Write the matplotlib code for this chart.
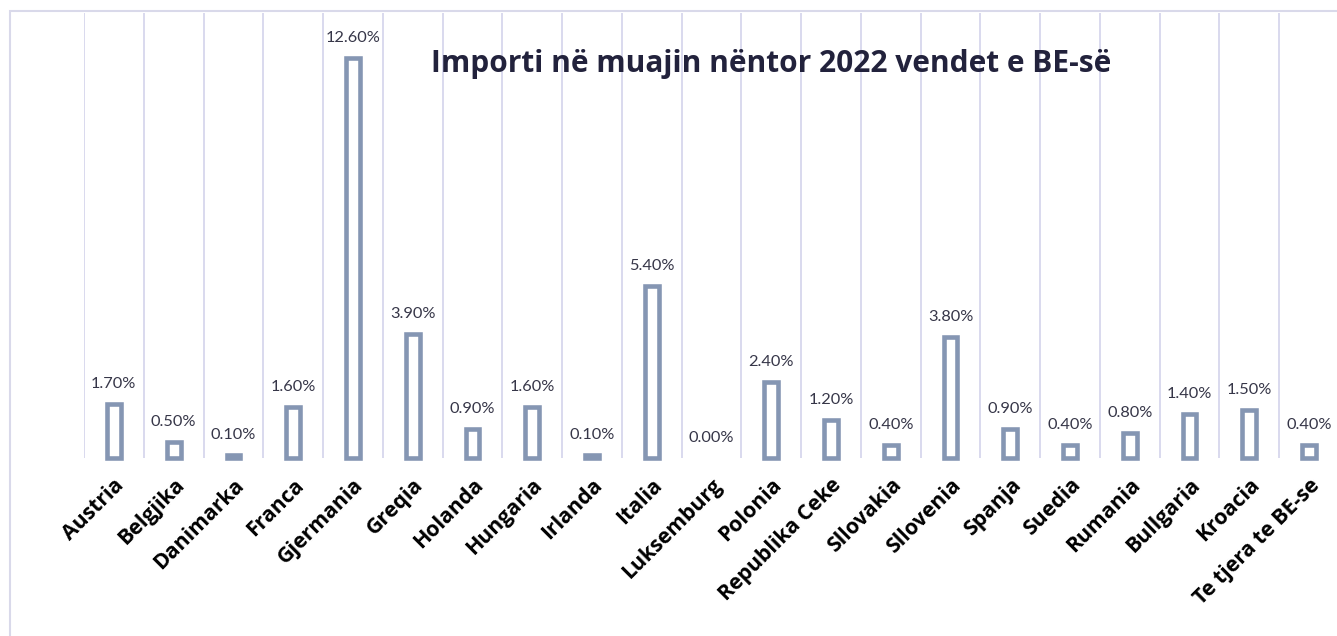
import matplotlib
matplotlib.use("Agg")
import matplotlib.pyplot as plt
from matplotlib.patches import Rectangle

categories = ["Austria", "Belgjika", "Danimarka", "Franca", "Gjermania", "Greqia",
              "Holanda", "Hungaria", "Irlanda", "Italia", "Luksemburg", "Polonia",
              "Republika Ceke", "Sllovakia", "Sllovenia", "Spanja", "Suedia",
              "Rumania", "Bullgaria", "Kroacia", "Te tjera te BE-se"]
values = [1.7, 0.5, 0.1, 1.6, 12.6, 3.9, 0.9, 1.6, 0.1, 5.4, 0.0, 2.4,
          1.2, 0.4, 3.8, 0.9, 0.4, 0.8, 1.4, 1.5, 0.4]
title = "Importi në muajin nëntor 2022 vendet e BE-së"

W, H = 1337, 636
fig = plt.figure(figsize=(W / 100, H / 100), dpi=100)
fig.patch.set_facecolor("white")

# outer chart border (extends beyond the image on right/bottom)
fig.patches.append(Rectangle((10 / W, -0.05), 1.1, 1 - 11 / H + 0.05,
                             transform=fig.transFigure, fill=False,
                             edgecolor="#D9D9EA", linewidth=1.5, zorder=0))

left, right, top, bottom = 84, 1339, 13, 458
ax = fig.add_axes([left / W, 1 - bottom / H, (right - left) / W, (bottom - top) / H])
ax.set_facecolor("none")

x = list(range(len(categories)))
lws = [0 if v == 0 else 3.3 for v in values]
bars = ax.bar(x, values, width=0.23, color="white", edgecolor="#8596B3",
              linewidth=lws, zorder=3, clip_on=False)

ax.set_xlim(-0.5, len(categories) - 0.5)
ax.set_ylim(0, 14)

# vertical gridlines at category boundaries
ax.set_xticks([i - 0.5 for i in range(len(categories) + 1)], minor=True)
ax.grid(True, which="minor", axis="x", color="#D9D9EE", linewidth=1.4, zorder=0)
ax.grid(False, which="major")
ax.tick_params(which="both", length=0)
ax.set_yticks([])
for s in ax.spines.values():
    s.set_visible(False)

ax.set_xticks(x)
ax.set_xticklabels(categories, rotation=45, ha="right", va="top",
                   rotation_mode="anchor", fontfamily="Open Sans", fontweight="bold",
                   fontsize=15.3, color="#000000")
ax.tick_params(axis="x", which="major", pad=12)

for xi, v in zip(x, values):
    ax.annotate(f"{v:.2f}%", xy=(xi, v), xytext=(0, 11.5), textcoords="offset points",
                ha="center", va="baseline", fontfamily="Lato", fontsize=11.8,
                color="#363648", zorder=4)

fig.text(771 / W, 1 - 64 / H, title, ha="center", va="center",
         fontfamily="Open Sans", fontweight="bold", fontsize=21.5, color="#22223C")

fig.savefig("out.png", dpi=100, facecolor="white")
